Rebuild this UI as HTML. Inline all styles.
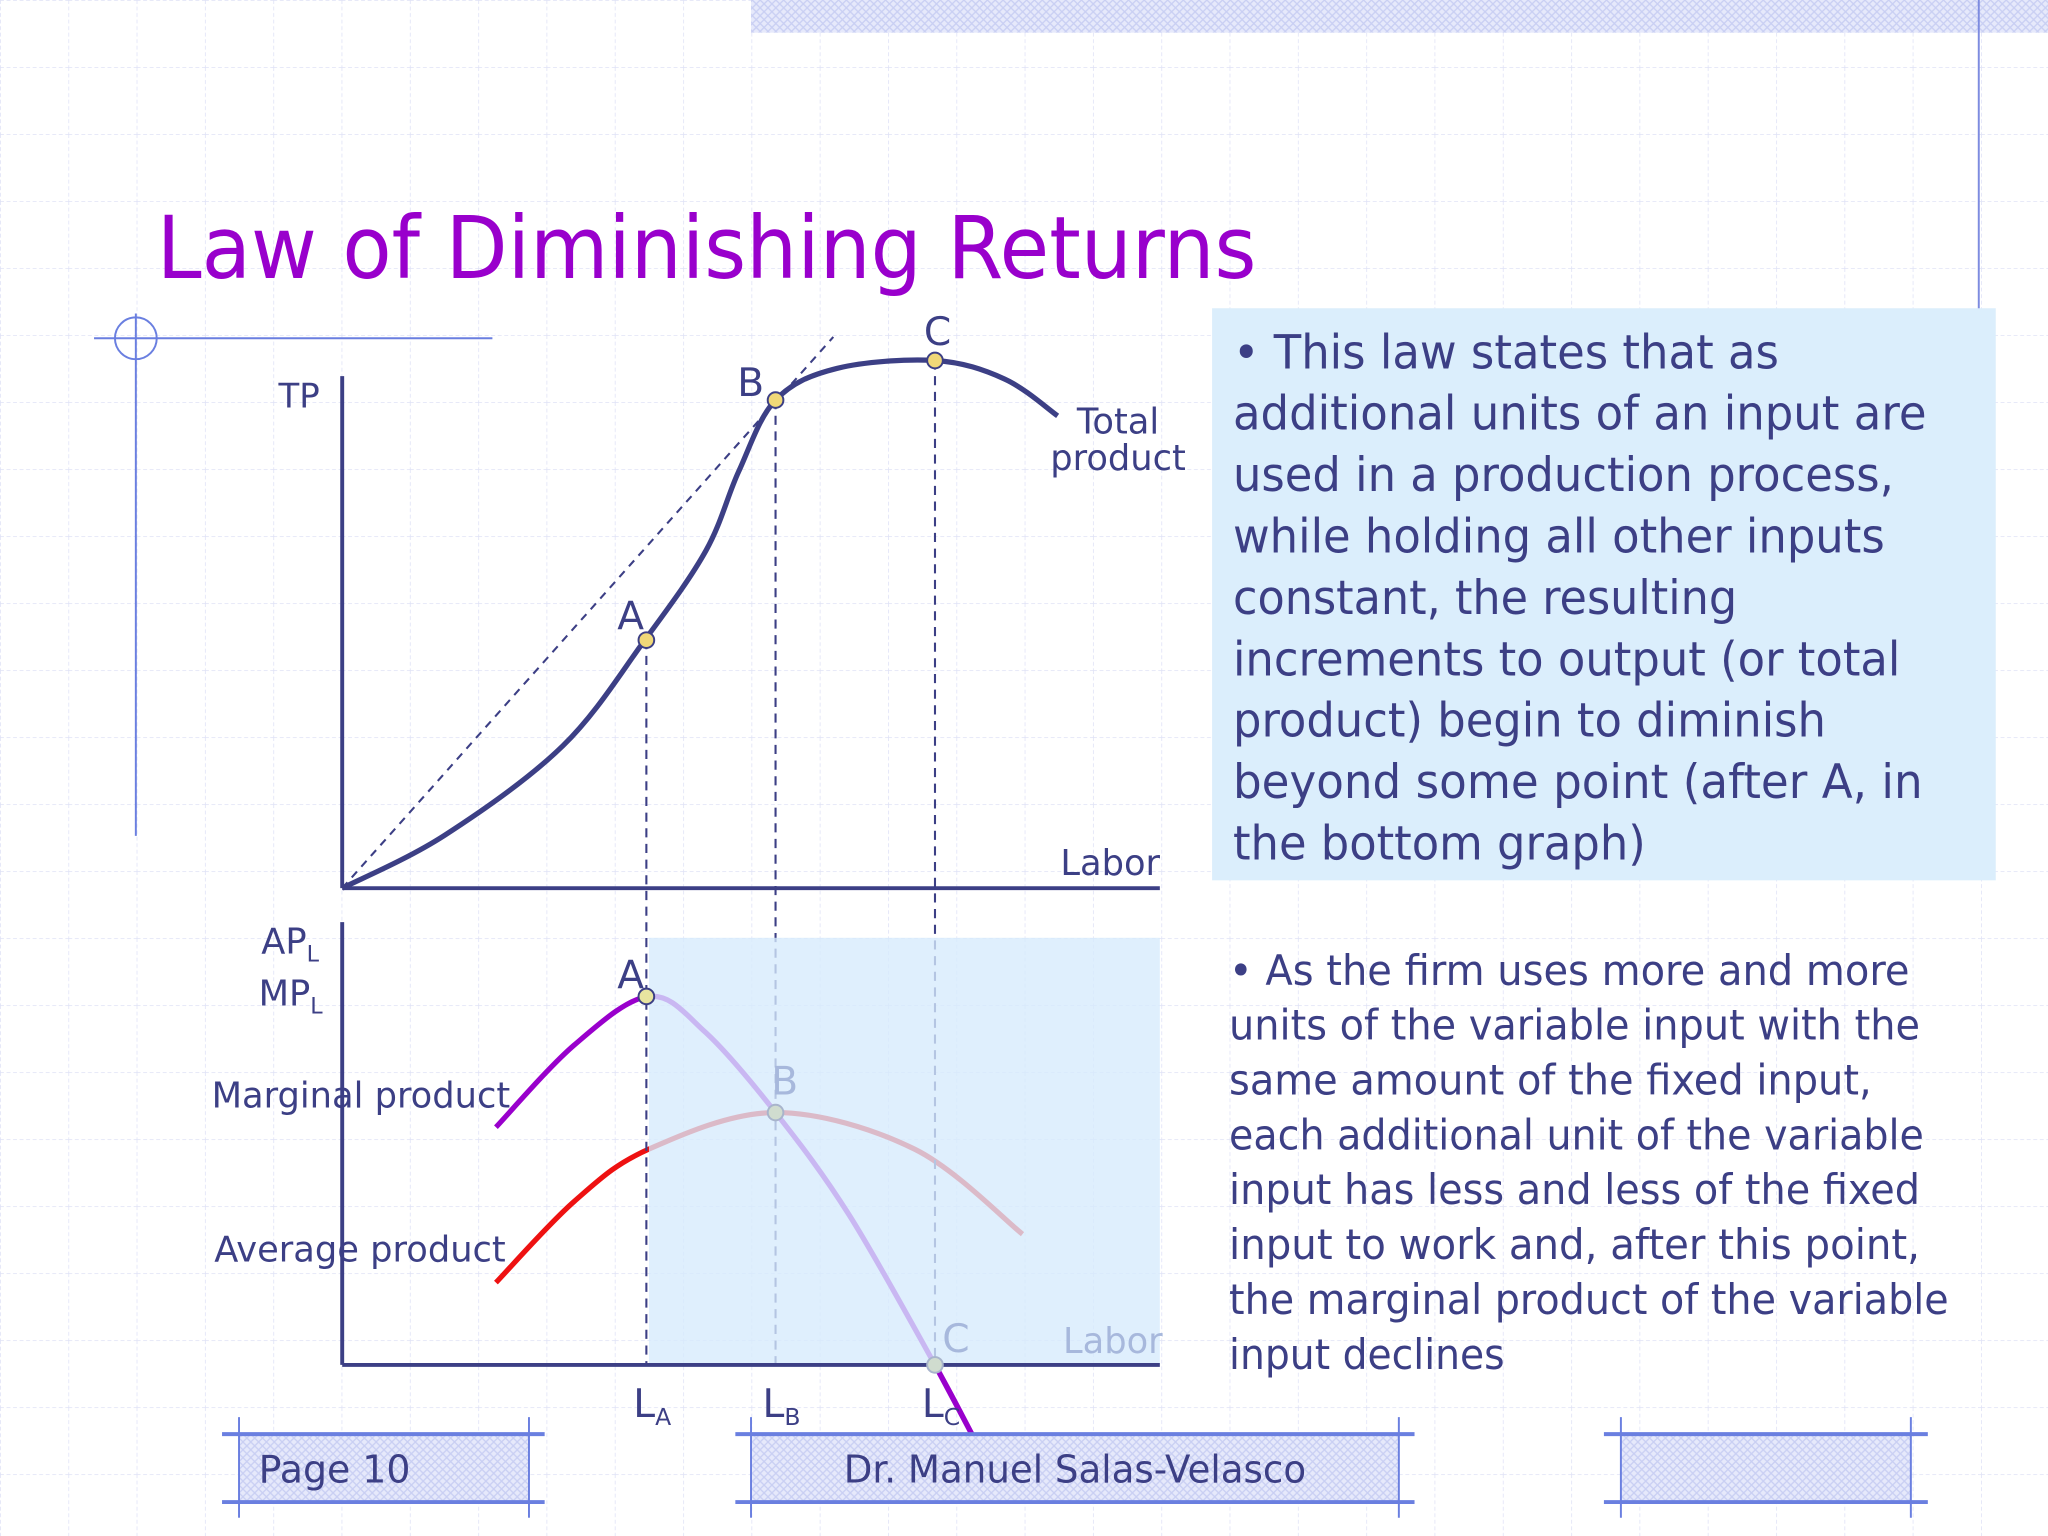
<!DOCTYPE html>
<html><head><meta charset="utf-8"><style>
html,body{margin:0;padding:0;background:#fff;}
svg{display:block;}
text{font-family:"DejaVu Sans","Liberation Sans",sans-serif;}
</style></head><body>
<svg id="slide" width="2048" height="1536" viewBox="0 0 1568 1176" xmlns="http://www.w3.org/2000/svg">
<defs>
<pattern id="grid" width="52.3" height="51.3" patternUnits="userSpaceOnUse">
<path d="M0 0V51.3M0 0H52.3" stroke="#dfe2f6" stroke-width="1.2" stroke-dasharray="3 2" fill="none"/>
</pattern>
<pattern id="hatch" width="6" height="6" patternUnits="userSpaceOnUse">
<rect width="6" height="6" fill="#e6e9fb"/>
<path d="M0 0L6 6M6 0L0 6" stroke="#c9cff3" stroke-width="1"/>
</pattern>
</defs>
<rect width="1568" height="1176" fill="#fff"/>
<rect width="1568" height="1176" fill="url(#grid)"/>
<rect x="575" y="0" width="993" height="25" fill="url(#hatch)"/>
<line x1="1515" y1="0" x2="1515" y2="405" stroke="#7d8be0" stroke-width="1.5"/>

<text x="120" y="213" font-size="66" fill="#9900cc" textLength="842" lengthAdjust="spacingAndGlyphs">Law of Diminishing Returns</text>

<g stroke="#6a7fe0" stroke-width="1.5" fill="none">
<line x1="72" y1="259" x2="377" y2="259"/>
<line x1="104" y1="240" x2="104" y2="640"/>
<circle cx="104" cy="259" r="16"/>
</g>

<rect x="928" y="236" width="600" height="438" fill="#dbeefc"/>
<g fill="#3c3f85" font-size="36">
<text x="944" y="282" textLength="418" lengthAdjust="spacingAndGlyphs">• This law states that as</text>
<text x="944" y="329" textLength="531" lengthAdjust="spacingAndGlyphs">additional units of an input are</text>
<text x="944" y="376" textLength="506" lengthAdjust="spacingAndGlyphs">used in a production process,</text>
<text x="944" y="423" textLength="499" lengthAdjust="spacingAndGlyphs">while holding all other inputs</text>
<text x="944" y="470" textLength="386" lengthAdjust="spacingAndGlyphs">constant, the resulting</text>
<text x="944" y="517" textLength="511" lengthAdjust="spacingAndGlyphs">increments to output (or total</text>
<text x="944" y="564" textLength="454" lengthAdjust="spacingAndGlyphs">product) begin to diminish</text>
<text x="944" y="611" textLength="528" lengthAdjust="spacingAndGlyphs">beyond some point (after A, in</text>
<text x="944" y="658" textLength="316" lengthAdjust="spacingAndGlyphs">the bottom graph)</text>
</g>
<g fill="#3c3f85" font-size="32">
<text x="941" y="754" textLength="521" lengthAdjust="spacingAndGlyphs">• As the firm uses more and more</text>
<text x="941" y="796" textLength="529" lengthAdjust="spacingAndGlyphs">units of the variable input with the</text>
<text x="941" y="838" textLength="492" lengthAdjust="spacingAndGlyphs">same amount of the fixed input,</text>
<text x="941" y="880" textLength="532" lengthAdjust="spacingAndGlyphs">each additional unit of the variable</text>
<text x="941" y="922" textLength="529" lengthAdjust="spacingAndGlyphs">input has less and less of the fixed</text>
<text x="941" y="964" textLength="529" lengthAdjust="spacingAndGlyphs">input to work and, after this point,</text>
<text x="941" y="1006" textLength="551" lengthAdjust="spacingAndGlyphs">the marginal product of the variable</text>
<text x="941" y="1048" textLength="211" lengthAdjust="spacingAndGlyphs">input declines</text>
</g>

<g id="chart"></g>

<g stroke="#6a7fe0" stroke-width="1.5">
<rect x="183" y="1098" width="222" height="52" fill="url(#hatch)" stroke="none"/>
<line x1="170" y1="1098" x2="417" y2="1098" stroke-width="3"/><line x1="170" y1="1150" x2="417" y2="1150" stroke-width="3"/>
<line x1="183" y1="1085" x2="183" y2="1162"/><line x1="405" y1="1085" x2="405" y2="1162"/>
<rect x="575" y="1098" width="496" height="52" fill="url(#hatch)" stroke="none"/>
<line x1="563" y1="1098" x2="1083" y2="1098" stroke-width="3"/><line x1="563" y1="1150" x2="1083" y2="1150" stroke-width="3"/>
<line x1="575" y1="1085" x2="575" y2="1162"/><line x1="1071" y1="1085" x2="1071" y2="1162"/>
<rect x="1241" y="1098" width="222" height="52" fill="url(#hatch)" stroke="none"/>
<line x1="1228" y1="1098" x2="1476" y2="1098" stroke-width="3"/><line x1="1228" y1="1150" x2="1476" y2="1150" stroke-width="3"/>
<line x1="1241" y1="1085" x2="1241" y2="1162"/><line x1="1463" y1="1085" x2="1463" y2="1162"/>
</g>
<text x="198" y="1135" font-size="29" fill="#3c3f85">Page 10</text>
<text x="823" y="1135" font-size="29" fill="#3c3f85" text-anchor="middle" textLength="354" lengthAdjust="spacingAndGlyphs">Dr. Manuel Salas-Velasco</text>

<script>
// Top chart data (labor units vs total product)
const tpLabor = [0, 1.25, 2.7, 3.7, 4.45, 4.85, 5.3, 6.05, 7.25, 8.1, 8.75];
const tpValues = [0, 10, 27, 47, 64, 79, 92.5, 98.5, 100, 96.5, 89.5];
// Bottom chart data
const mpLabor = [1.88, 2.84, 3.75, 4.44, 5.3, 6.2, 7.25, 7.72];
const mpValues = [26, 35, 40.3, 36.4, 27.6, 16.4, 0, -7.9];
const apLabor = [1.88, 2.84, 3.75, 5.3, 7.0, 8.32];
const apValues = [9, 17.9, 23.6, 27.6, 23.6, 14.3];
// Key points A, B, C
const keyNames = ['A', 'B', 'C'];
const keyLabor = [3.72, 5.3, 7.25];
const keyTP = [47, 92.5, 100];
const keyMarg = [40.3, 27.6, 0];
const subLabels = ['A', 'B', 'C'];

const NS = 'http://www.w3.org/2000/svg';
const chart = document.getElementById('chart');
const xs = l => 262 + l * 62.6;
const yTop = v => 680 - v * 4.04;
const yBot = v => 1045 - v * 7;

function mk(tag, attrs, parent) {
  const e = document.createElementNS(NS, tag);
  for (const k in attrs) e.setAttribute(k, attrs[k]);
  (parent || chart).appendChild(e);
  return e;
}
function smooth(pts) {
  let d = 'M' + pts[0][0] + ' ' + pts[0][1];
  for (let i = 0; i < pts.length - 1; i++) {
    const p0 = pts[i - 1] || pts[i], p1 = pts[i], p2 = pts[i + 1], p3 = pts[i + 2] || p2;
    const c1 = [p1[0] + (p2[0] - p0[0]) / 6, p1[1] + (p2[1] - p0[1]) / 6];
    const c2 = [p2[0] - (p3[0] - p1[0]) / 6, p2[1] - (p3[1] - p1[1]) / 6];
    d += ' C' + c1.join(' ') + ' ' + c2.join(' ') + ' ' + p2.join(' ');
  }
  return d;
}
function txt(s, x, y, size, fill, name, anchor) {
  const t = mk('text', {x: x, y: y, 'font-size': size, fill: fill, 'text-anchor': anchor || 'start'});
  t.textContent = s;
  
  
  return t;
}
const dark = '#3c3f85';

const ray = mk('line', {x1: xs(0), y1: yTop(0), x2: 638, y2: 258, stroke: dark, 'stroke-width': 1.6, 'stroke-dasharray': '6 5'});



const mpPath = mk('path', {d: smooth(mpLabor.map((l, i) => [xs(l), yBot(mpValues[i])])), fill: 'none', stroke: '#9900cc', 'stroke-width': 4});


const apPath = mk('path', {d: smooth(apLabor.map((l, i) => [xs(l), yBot(apValues[i])])), fill: 'none', stroke: '#ee1111', 'stroke-width': 4});



keyLabor.forEach((l, i) => {
  const v = mk('line', {x1: xs(l), y1: yTop(keyTP[i]), x2: xs(l), y2: 1045, stroke: dark, 'stroke-width': 1.6, 'stroke-dasharray': '7 5'});
  
  
});

const ov = mk('rect', {x: xs(keyLabor[0]) + 2, y: 718, width: 888 - xs(keyLabor[0]) - 2, height: 327, fill: 'rgb(214,234,252)', 'fill-opacity': 0.78});



const tail = mk('line', {x1: xs(mpLabor[6]), y1: yBot(mpValues[6]), x2: xs(mpLabor[7]), y2: yBot(mpValues[7]), stroke: '#9900cc', 'stroke-width': 4});



const tp = mk('path', {d: smooth(tpLabor.map((l, i) => [xs(l), yTop(tpValues[i])])), fill: 'none', stroke: dark, 'stroke-width': 4});



[[262, 288, 262, 680], [262, 680, 888, 680], [262, 706, 262, 1045], [262, 1045, 888, 1045]].forEach((a, i) => {
  const ax = mk('line', {x1: a[0], y1: a[1], x2: a[2], y2: a[3], stroke: dark, 'stroke-width': 3});
  
  
});

keyLabor.forEach((l, i) => {
  const d1 = mk('circle', {cx: xs(l), cy: yTop(keyTP[i]), r: 6, fill: '#f0d878', stroke: dark, 'stroke-width': 1.5});
  
  
  const d2 = mk('circle', {cx: xs(l), cy: yBot(keyMarg[i]), r: 6, fill: i ? '#d0dccf' : '#e8e4a0', stroke: i ? '#a8b4cc' : dark, 'stroke-width': 1.5});
  
  
  const lb = txt('L', xs(l) - 10, 1085, 30, dark, 'tick-l-' + keyNames[i].toLowerCase());
  const sub = mk('tspan', {'font-size': 18, dy: 6});
  sub.textContent = subLabels[i];
  lb.appendChild(sub);
});
txt('A', xs(keyLabor[0]) - 12, yTop(keyTP[0]) - 8, 30, dark, 'tp-label-a', 'middle');
txt('B', xs(keyLabor[1]) - 19, yTop(keyTP[1]) - 3, 30, dark, 'tp-label-b', 'middle');
txt('C', xs(keyLabor[2]) + 2, yTop(keyTP[2]) - 12, 30, dark, 'tp-label-c', 'middle');
txt('A', xs(keyLabor[0]) - 12, yBot(keyMarg[0]) - 6, 30, dark, 'mp-label-a', 'middle');
txt('B', xs(keyLabor[1]) + 7, yBot(keyMarg[1]) - 14, 30, '#a7b8dc', 'mp-label-b', 'middle');
txt('C', xs(keyLabor[2]) + 16, yBot(keyMarg[2]) - 10, 30, '#a7b8dc', 'mp-label-c', 'middle');

txt('TP', 229, 312, 26, dark, 'tp-axis-title', 'middle');
txt('Labor', 850, 670, 27, dark, 'tp-x-axis-title', 'middle');
txt('Total', 856, 332, 27, dark, 'total-product-label', 'middle');
txt('product', 856, 360, 27, dark, 'total-product-label-2', 'middle');
txt('Labor', 852, 1036, 27, '#a7b8dc', 'mp-x-axis-title', 'middle');
const ap = txt('AP', 200, 730, 27, dark, 'apl-axis-title');
const s1 = mk('tspan', {'font-size': 17, dy: 6}, ap); s1.textContent = 'L';
const mp = txt('MP', 198, 770, 27, dark, 'mpl-axis-title');
const s2 = mk('tspan', {'font-size': 17, dy: 6}, mp); s2.textContent = 'L';
txt('Marginal product', 162, 848, 27, dark, 'marginal-product-label');
txt('Average product', 164, 966, 27, dark, 'average-product-label');
</script>
</svg>
</body></html>
